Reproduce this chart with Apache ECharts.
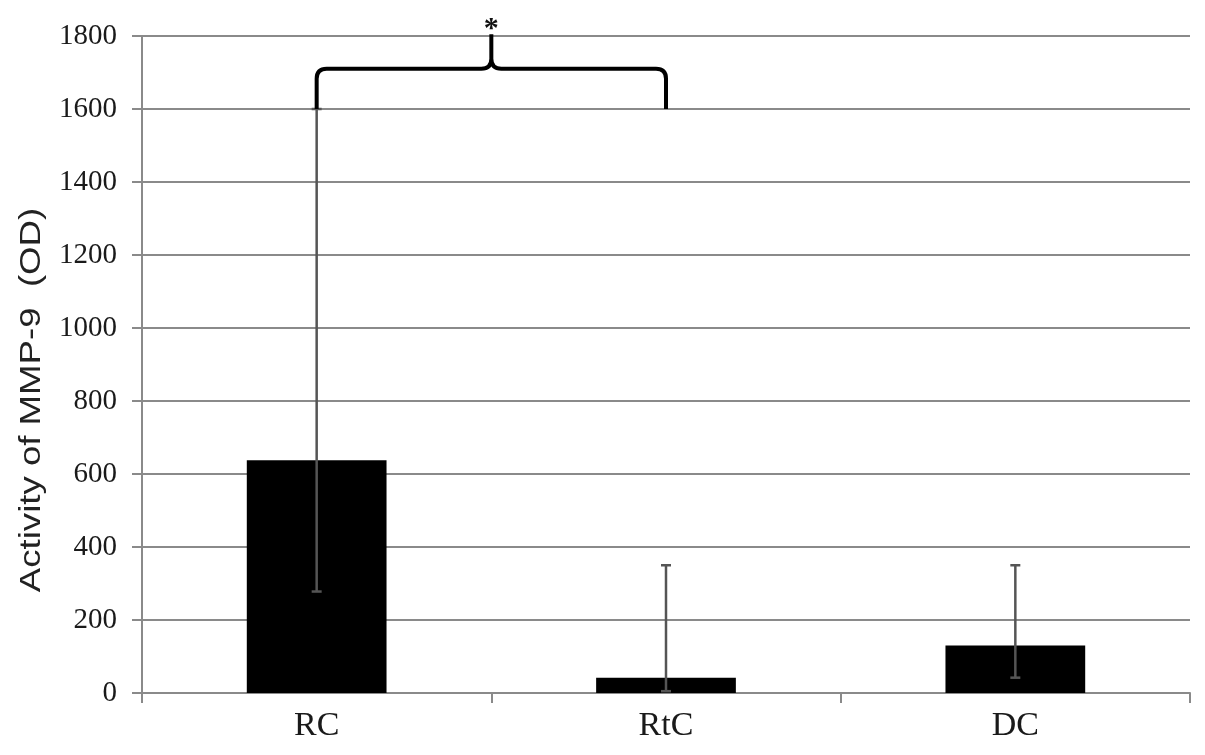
<!DOCTYPE html>
<html><head><meta charset="utf-8">
<script src="https://cdn.jsdelivr.net/npm/echarts@6/dist/echarts.min.js"></script>
<style>html,body{margin:0;padding:0;background:#fff}#c{width:1205px;height:755px}</style>
</head><body><div id="c"></div>
<script>
const categories = ['RC', 'RtC', 'DC'];
const means = [638, 42, 130];
const errLow = [278, 5, 42];
const errHigh = [1600, 350, 350];
const yTicks = [0, 200, 400, 600, 800, 1000, 1200, 1400, 1600, 1800];
const yTitle = 'Activity of MMP-9  (OD)';
// significance bracket: from category, to category, foot value, arm value, tip value, label
const sigFrom = [0];
const sigTo = [1];
const sigFoot = [1600];
const sigArm = [1710];
const sigTip = [1805];
const sigLabel = ['*'];

const chart = echarts.init(document.getElementById('c'));
const serif = '"Liberation Serif", "DejaVu Serif", serif';
chart.setOption({
  animation: false,
  grid: { left: 142, right: 15, top: 36, bottom: 62 },
  graphic: [{
    type: 'text', x: 32, y: 400,
    rotation: Math.PI / 2, scaleX: 1.22, scaleY: 1,
    style: { text: yTitle, font: '30px "Liberation Sans", sans-serif', fill: '#222', align: 'center', verticalAlign: 'middle' }
  }],
  xAxis: {
    type: 'category', data: categories,
    axisLine: { lineStyle: { color: '#8a8a8a', width: 2 } },
    axisTick: { show: true, alignWithLabel: false, length: 10, lineStyle: { color: '#8a8a8a', width: 2 } },
    axisLabel: { color: '#1a1a1a', fontFamily: serif, fontSize: 34, margin: 16 }
  },
  yAxis: {
    type: 'value', min: yTicks[0], max: yTicks[yTicks.length - 1], interval: 200,
    axisLine: { show: true, lineStyle: { color: '#8a8a8a', width: 2 } },
    axisTick: { show: true, length: 10, lineStyle: { color: '#8a8a8a', width: 2 } },
    axisLabel: { color: '#1a1a1a', fontFamily: serif, fontSize: 29, margin: 25, formatter: v => String(v) },
    splitLine: { lineStyle: { color: '#8a8a8a', width: 2 } }
  },
  series: [
    {
      type: 'bar', data: means, barWidth: '40%',
      itemStyle: { color: '#000' }, z: 2
    },
    {
      type: 'custom', z: 3,
      data: categories.map((c, i) => [i, errLow[i], errHigh[i]]),
      renderItem: function (params, api) {
        const lo = api.coord([api.value(0), api.value(1)]);
        const hi = api.coord([api.value(0), api.value(2)]);
        const cap = 5;
        const st = { stroke: '#555', lineWidth: 2.5 };
        return { type: 'group', children: [
          { type: 'line', shape: { x1: lo[0], y1: lo[1], x2: hi[0], y2: hi[1] }, style: st },
          { type: 'line', shape: { x1: hi[0] - cap, y1: hi[1], x2: hi[0] + cap, y2: hi[1] }, style: st },
          { type: 'line', shape: { x1: lo[0] - cap, y1: lo[1], x2: lo[0] + cap, y2: lo[1] }, style: st }
        ]};
      }
    },
    {
      type: 'custom', z: 4,
      data: sigFrom.map((f, i) => [f, sigTo[i], sigFoot[i], sigArm[i], sigTip[i]]),
      renderItem: function (params, api) {
        const a = api.coord([api.value(0), api.value(2)]);
        const b = api.coord([api.value(1), api.value(2)]);
        const yArm = api.coord([api.value(0), api.value(3)])[1];
        const yTip = api.coord([api.value(0), api.value(4)])[1];
        const xm = (a[0] + b[0]) / 2;
        const r = 10;
        const d = 'M' + a[0] + ' ' + a[1] +
          ' L' + a[0] + ' ' + (yArm + r) +
          ' Q' + a[0] + ' ' + yArm + ' ' + (a[0] + r) + ' ' + yArm +
          ' L' + (xm - r) + ' ' + yArm +
          ' Q' + xm + ' ' + yArm + ' ' + xm + ' ' + (yArm - r) +
          ' L' + xm + ' ' + yTip +
          ' M' + xm + ' ' + (yArm - r) +
          ' Q' + xm + ' ' + yArm + ' ' + (xm + r) + ' ' + yArm +
          ' L' + (b[0] - r) + ' ' + yArm +
          ' Q' + b[0] + ' ' + yArm + ' ' + b[0] + ' ' + (yArm + r) +
          ' L' + b[0] + ' ' + b[1];
        return { type: 'group', children: [
          { type: 'path', shape: { pathData: d }, style: { stroke: '#000', lineWidth: 4, fill: null } },
          { type: 'text', style: { text: sigLabel[params.dataIndex], x: xm, y: yTip + 10, align: 'center', verticalAlign: 'bottom', font: 'bold 30px ' + serif, fill: '#111' } }
        ]};
      }
    }
  ]
});
</script></body></html>
